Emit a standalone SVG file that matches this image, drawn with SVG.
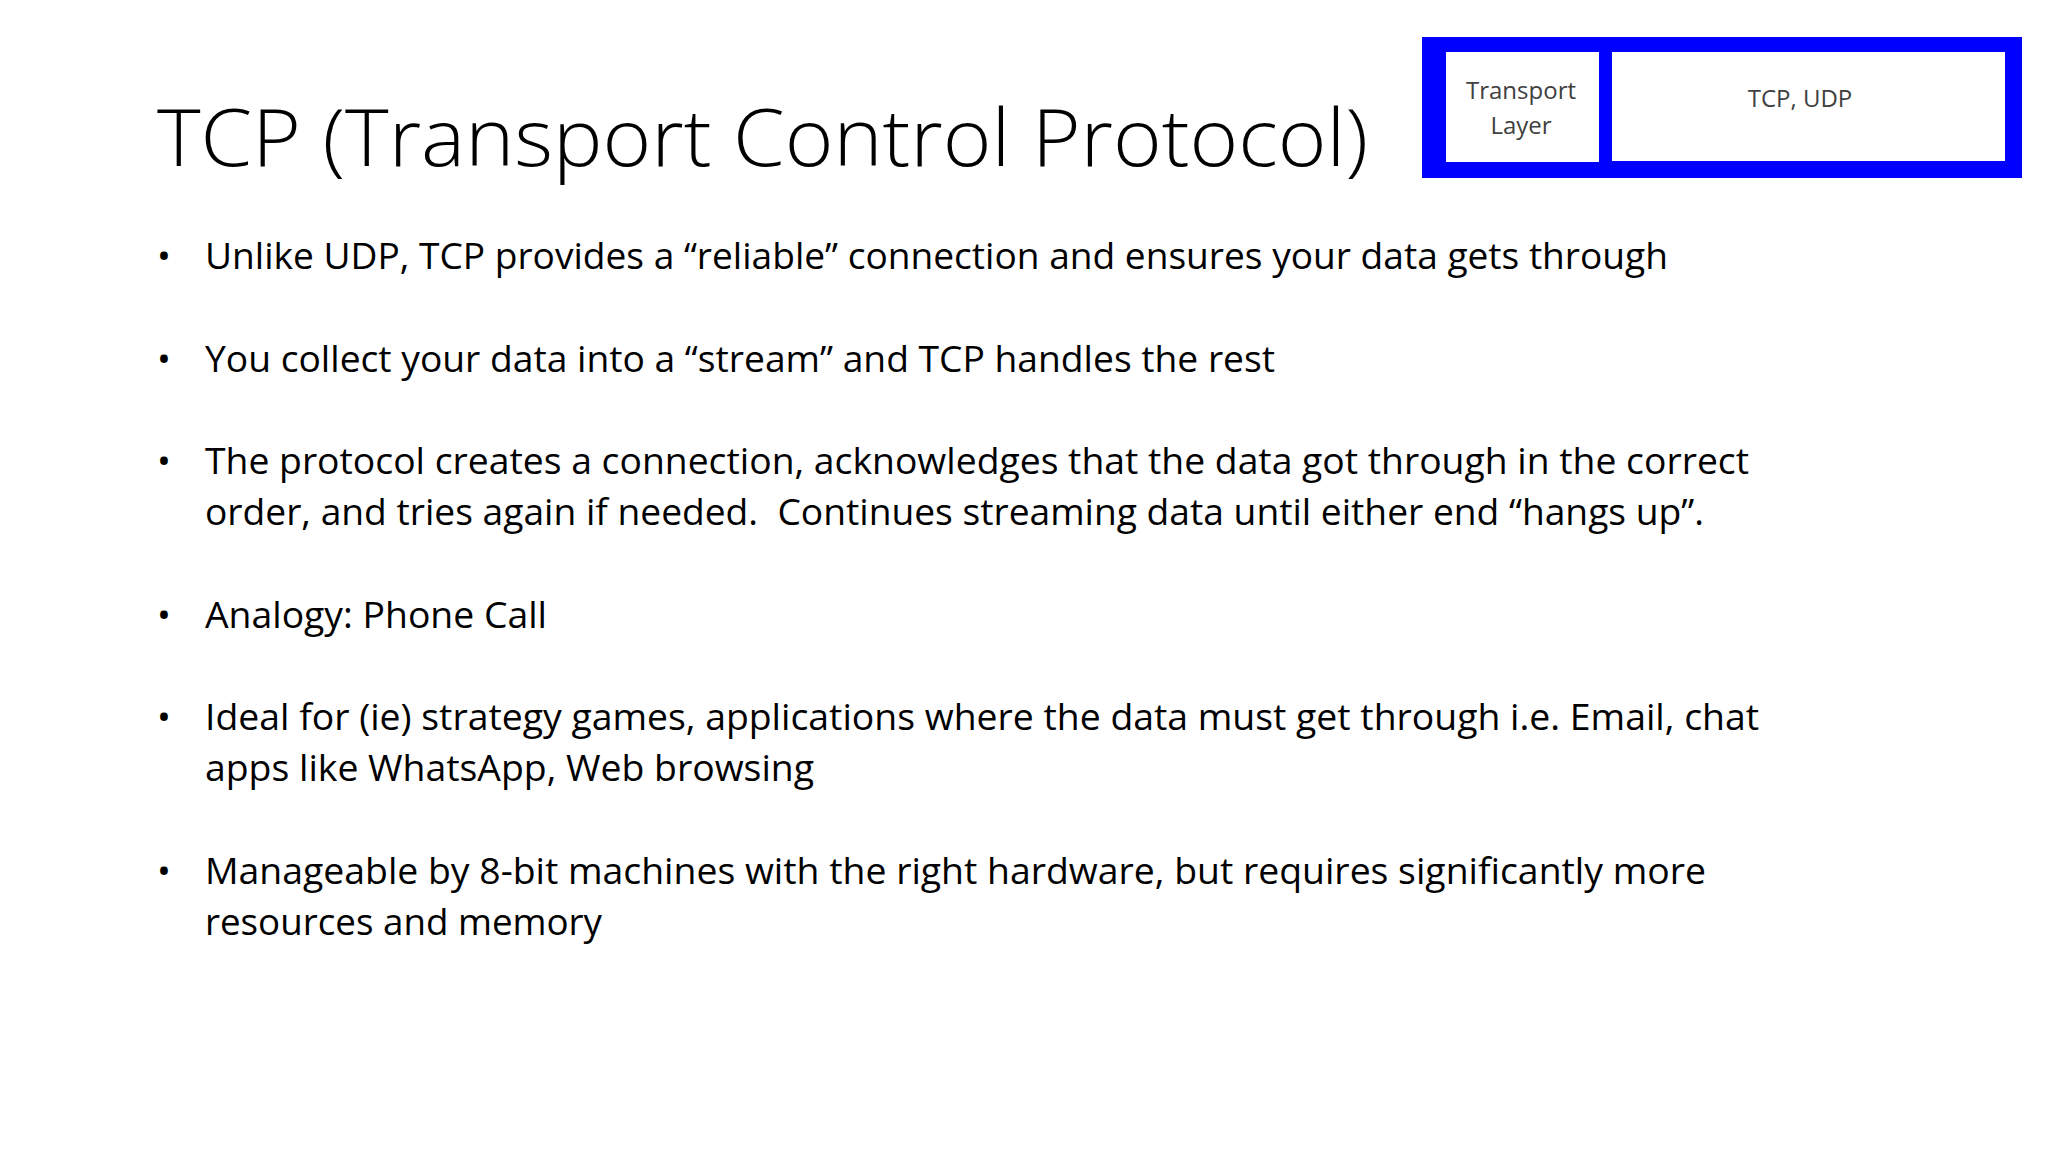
<svg xmlns="http://www.w3.org/2000/svg" width="2048" height="1152" viewBox="0 0 2048 1152">
<style>
.t{font-family:"Open Sans","Liberation Sans",sans-serif;fill:#000}
.b{font-size:37px}
.s{font-family:"Open Sans","Liberation Sans",sans-serif;font-size:24px;fill:#404040;text-anchor:middle}
</style>
<rect width="2048" height="1152" fill="#fff"/>
<text class="t" x="157" y="166" font-size="80" font-weight="300" textLength="1211" lengthAdjust="spacingAndGlyphs">TCP (Transport Control Protocol)</text>
<g id="layer-box">
<rect x="1422" y="37" width="600" height="141" fill="#0000ff"/>
<rect x="1446" y="52" width="153" height="110" fill="#fff"/>
<rect x="1612" y="52" width="393" height="109" fill="#fff"/>
<text class="s" x="1521" y="99">Transport</text>
<text class="s" x="1521" y="134">Layer</text>
<text class="s" x="1800" y="107">TCP, UDP</text>
</g>
<g class="t b">
<text x="157" y="269">•</text>
<text x="205" y="269" textLength="1463" lengthAdjust="spacingAndGlyphs">Unlike UDP, TCP provides a “reliable” connection and ensures your data gets through</text>
<text x="157" y="372">•</text>
<text x="205" y="372" textLength="1070" lengthAdjust="spacingAndGlyphs">You collect your data into a “stream” and TCP handles the rest</text>
<text x="157" y="474">•</text>
<text x="205" y="474" textLength="1544" lengthAdjust="spacingAndGlyphs">The protocol creates a connection, acknowledges that the data got through in the correct</text>
<text x="205" y="525" textLength="1499" lengthAdjust="spacingAndGlyphs" xml:space="preserve">order, and tries again if needed.  Continues streaming data until either end “hangs up”.</text>
<text x="157" y="628">•</text>
<text x="205" y="628" textLength="342" lengthAdjust="spacingAndGlyphs">Analogy: Phone Call</text>
<text x="157" y="730">•</text>
<text x="205" y="730" textLength="1554" lengthAdjust="spacingAndGlyphs">Ideal for (ie) strategy games, applications where the data must get through i.e. Email, chat</text>
<text x="205" y="781" textLength="609" lengthAdjust="spacingAndGlyphs">apps like WhatsApp, Web browsing</text>
<text x="157" y="884">•</text>
<text x="205" y="884" textLength="1501" lengthAdjust="spacingAndGlyphs">Manageable by 8-bit machines with the right hardware, but requires significantly more</text>
<text x="205" y="935" textLength="397" lengthAdjust="spacingAndGlyphs">resources and memory</text>
</g>
</svg>
